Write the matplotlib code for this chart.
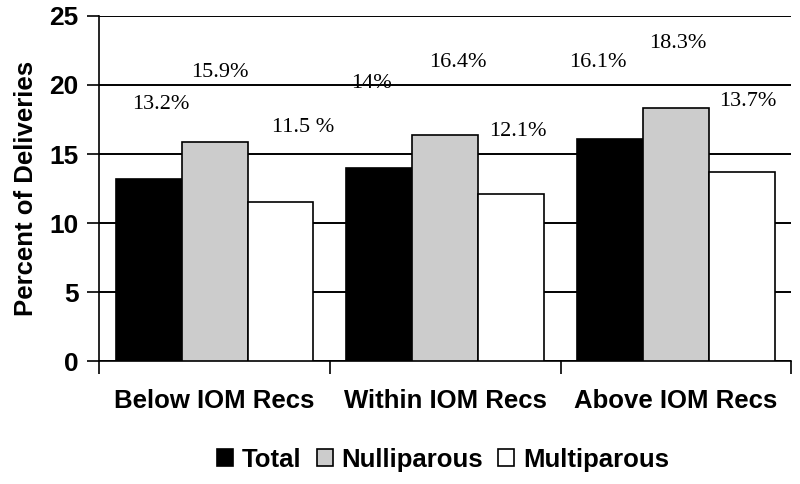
import matplotlib
matplotlib.use('Agg')
import matplotlib.pyplot as plt
import numpy as np

# data
groups = ['Below IOM Recs', 'Within IOM Recs', 'Above IOM Recs']
series = ['Total', 'Nulliparous', 'Multiparous']
total = [13.2, 14.0, 16.1]
nulli = [15.9, 16.4, 18.3]
multi = [11.5, 12.1, 13.7]
lab_total = ['13.2%', '14%', '16.1%']
lab_nulli = ['15.9%', '16.4%', '18.3%']
lab_multi = ['11.5 %', '12.1%', '13.7%']

colors = ['black', '#cccccc', 'white']
# label placement (x offset from group centre, y lift above bar)
lab_dx = [[-0.235, 0.025, 0.385], [-0.32, 0.056, 0.316], [-0.337, 0.01, 0.31]]
lab_dy = [[5.4, 5.0, 5.4], [6.1, 5.2, 4.5], [5.5, 4.7, 5.1]]

sans = 'Liberation Sans'

fig = plt.figure(figsize=(8, 4.84), dpi=100)
ax = fig.add_axes([0.124, 0.254, 0.865, 0.713])

x = np.arange(len(groups))
w = 0.286
vals = [total, nulli, multi]
labs = [lab_total, lab_nulli, lab_multi]
for k in range(3):
    ax.bar(x + (k - 1) * w, vals[k], w, color=colors[k], edgecolor='black',
           linewidth=1.2, label=series[k], zorder=3)

for i in range(3):
    for k in range(3):
        ax.text(x[i] + lab_dx[i][k], vals[k][i] + lab_dy[i][k], labs[k][i],
                ha='center', va='center', fontsize=16,
                family='Liberation Serif', zorder=4)

ax.set_xlim(-0.5, 2.5)
ax.set_ylim(0, 25)
ax.set_yticks(np.arange(0, 26, 5))
ax.yaxis.grid(True, color='black', linewidth=1.4, zorder=0)
ax.set_axisbelow(True)
for s in ['top', 'right']:
    ax.spines[s].set_visible(False)
ax.spines['left'].set_linewidth(1.2)
ax.spines['bottom'].set_linewidth(1.2)

ax.set_xticks(x)
ax.set_xticklabels(groups, fontsize=18.5, fontweight='bold', family=sans)
ax.tick_params(axis='x', length=0, pad=20)
ax.set_xticks([-0.5, 0.5, 1.5, 2.5], minor=True)
ax.tick_params(axis='x', which='minor', length=9, width=1.2, direction='out')
ax.tick_params(axis='y', length=9, width=1.2, labelsize=19, pad=6)
for t in ax.get_yticklabels():
    t.set_fontweight('bold')
    t.set_family(sans)

ax.set_ylabel('Percent of Deliveries', fontsize=18.5, fontweight='bold',
              family=sans, labelpad=8)

leg = fig.legend(loc='center', bbox_to_anchor=(0.554, 0.05), ncol=3,
                 frameon=False, handlelength=0.62, handleheight=0.62,
                 handletextpad=0.35, columnspacing=0.58,
                 prop={'family': sans, 'weight': 'bold', 'size': 18.5})

fig.savefig('out.png', dpi=100)
